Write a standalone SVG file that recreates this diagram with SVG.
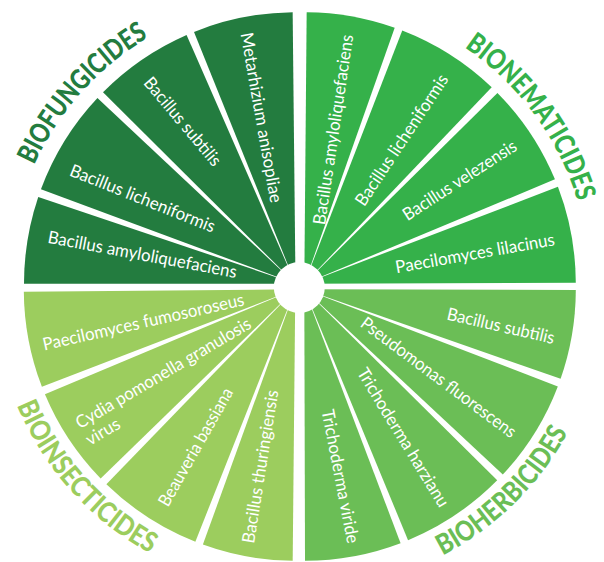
<svg xmlns="http://www.w3.org/2000/svg" width="604" height="562" viewBox="0 0 604 562">
  <style>
    .fung { fill: #237C3F; }
    .nema { fill: #35B14A; }
    .insect { fill: #9CCD5E; }
    .herb { fill: #6BBE56; }
    .lbl { font-family: Lato, "Liberation Sans", sans-serif; font-size: 17.5px; fill: #ffffff; text-anchor: middle; }
    .lbl-start { font-family: Lato, "Liberation Sans", sans-serif; font-size: 17.5px; fill: #ffffff; }
    .ttl { font-family: Lato, "Liberation Sans", sans-serif; font-size: 28px; font-weight: 900; }
  </style>
  <defs>
    <!-- baseline arcs for the category titles -->
    <path id="arc-fung" d="M34.13,165.14 A287,287 0 0 1 148.54,37.18"/>
    <path id="arc-nema" d="M464.43,47.33 A285.5,285.5 0 0 1 577.69,201.42"/>
    <path id="arc-insect" d="M16.96,405.16 A301.5,301.5 0 0 0 150.05,553.51"/>
    <path id="arc-herb" d="M442.83,555.4 A300,300 0 0 0 567.95,432.45"/>
  </defs>

  <!-- upper left quarter -->
  <g id="biofungicides">
    <g id="fung-amyloliquefaciens">
      <path class="fung" d="M295.5,283.7 L24,283.7 A271.5,271.5 0 0 1 38.26,196.88 Z"/>
      <text class="lbl" transform="translate(141.35,260.35) rotate(10.6)" textLength="192" lengthAdjust="spacingAndGlyphs">Bacillus amyloliquefaciens</text>
    </g>
    <g id="fung-licheniformis">
      <path class="fung" d="M295.5,283.7 L40.95,189.29 A271.5,271.5 0 0 1 97.43,98.02 Z"/>
      <text class="lbl" transform="translate(140.35,204) rotate(21.8)" textLength="155" lengthAdjust="spacingAndGlyphs">Bacillus licheniformis</text>
    </g>
    <g id="fung-subtilis">
      <path class="fung" d="M295.5,283.7 L103.02,92.23 A271.5,271.5 0 0 1 186.59,35.01 Z"/>
      <text class="lbl" transform="translate(178,125.3) rotate(50)" textLength="110" lengthAdjust="spacingAndGlyphs">Bacillus subtilis</text>
    </g>
    <g id="fung-metarhizium">
      <path class="fung" d="M295.5,283.7 L194.01,31.88 A271.5,271.5 0 0 1 292.66,12.21 Z"/>
      <text class="lbl" transform="translate(255.5,118.7) rotate(80)" textLength="172.5" lengthAdjust="spacingAndGlyphs">Metarhizium anisopliae</text>
    </g>
    <text class="ttl fung"><textPath href="#arc-fung" textLength="174" lengthAdjust="spacingAndGlyphs">BIOFUNGICIDES</textPath></text>
  </g>

  <!-- upper right quarter -->
  <g id="bionematicides">
    <g id="nema-amyloliquefaciens">
      <path class="nema" d="M304.3,283.7 L306.67,12.21 A271.5,271.5 0 0 1 394.7,27.7 Z"/>
      <text class="lbl" transform="translate(339.2,130.5) rotate(-81.5)" textLength="192" lengthAdjust="spacingAndGlyphs">Bacillus amyloliquefaciens</text>
    </g>
    <g id="nema-licheniformis">
      <path class="nema" d="M304.3,283.7 L402.26,30.49 A271.5,271.5 0 0 1 491.7,87.26 Z"/>
      <text class="lbl" transform="translate(406.7,143.3) rotate(-56.5)" textLength="153.6" lengthAdjust="spacingAndGlyphs">Bacillus licheniformis</text>
    </g>
    <g id="nema-velezensis">
      <path class="nema" d="M304.3,283.7 L497.44,92.9 A271.5,271.5 0 0 1 554.94,179.37 Z"/>
      <text class="lbl" transform="translate(462.8,185.3) rotate(-33)" textLength="132" lengthAdjust="spacingAndGlyphs">Bacillus velezensis</text>
    </g>
    <g id="nema-lilacinus">
      <path class="nema" d="M304.3,283.7 L557.93,186.85 A271.5,271.5 0 0 1 575.8,282.75 Z"/>
      <text class="lbl" transform="translate(476,259.2) rotate(-10)" textLength="161.5" lengthAdjust="spacingAndGlyphs">Paecilomyces lilacinus</text>
    </g>
    <text class="ttl nema"><textPath href="#arc-nema" textLength="195" lengthAdjust="spacingAndGlyphs">BIONEMATICIDES</textPath></text>
  </g>

  <!-- lower left quarter -->
  <g id="bioinsecticides">
    <g id="insect-fumosoroseus">
      <path class="insect" d="M295.3,289.3 L23.81,291.67 A271.5,271.5 0 0 0 41.92,386.82 Z"/>
      <text class="lbl" transform="translate(144.7,327.8) rotate(-12.7)" textLength="206" lengthAdjust="spacingAndGlyphs">Paecilomyces fumosoroseus</text>
    </g>
    <g id="insect-cydia">
      <path class="insect" d="M295.3,289.3 L44.93,394.29 A271.5,271.5 0 0 0 100.66,478.58 Z"/>
      <g transform="translate(80,429.3) rotate(-30.6)">
        <text class="lbl-start" textLength="200.5" lengthAdjust="spacingAndGlyphs">Cydia pomonella granulosis</text>
        <text class="lbl-start" y="19.5">virus</text>
      </g>
    </g>
    <g id="insect-beauveria">
      <path class="insect" d="M295.3,289.3 L106.36,484.27 A271.5,271.5 0 0 0 195.36,541.72 Z"/>
      <text class="lbl" transform="translate(200.8,450) rotate(-60.4)" textLength="133" lengthAdjust="spacingAndGlyphs">Beauveria bassiana</text>
    </g>
    <g id="insect-thuringiensis">
      <path class="insect" d="M295.3,289.3 L202.89,544.58 A271.5,271.5 0 0 0 292.69,560.79 Z"/>
      <text class="lbl" transform="translate(266.2,467.5) rotate(-80.9)" textLength="155" lengthAdjust="spacingAndGlyphs">Bacillus thuringiensis</text>
    </g>
    <text class="ttl insect"><textPath href="#arc-insect" textLength="203" lengthAdjust="spacingAndGlyphs">BIOINSECTICIDES</textPath></text>
  </g>

  <!-- lower right quarter -->
  <g id="bioherbicides">
    <g id="herb-subtilis">
      <path class="herb" d="M304.3,289.3 L575.8,290.01 A271.5,271.5 0 0 1 560.6,378.85 Z"/>
      <text class="lbl" transform="translate(499.5,331.7) rotate(12.9)" textLength="110" lengthAdjust="spacingAndGlyphs">Bacillus subtilis</text>
    </g>
    <g id="herb-fluorescens">
      <path class="herb" d="M304.3,289.3 L557.83,386.42 A271.5,271.5 0 0 1 502.8,474.53 Z"/>
      <text class="lbl" transform="translate(435,382.2) rotate(36.7)" textLength="189" lengthAdjust="spacingAndGlyphs">Pseudomonas fluorescens</text>
    </g>
    <g id="herb-harzianu">
      <path class="herb" d="M304.3,289.3 L497.21,480.33 A271.5,271.5 0 0 1 408.06,540.18 Z"/>
      <text class="lbl" transform="translate(398,440.5) rotate(58.6)" textLength="159.5" lengthAdjust="spacingAndGlyphs">Trichoderma harzianu</text>
    </g>
    <g id="herb-viride">
      <path class="herb" d="M304.3,289.3 L400.58,543.15 A271.5,271.5 0 0 1 305.01,560.8 Z"/>
      <text class="lbl" transform="translate(334.5,477.5) rotate(79)" textLength="136" lengthAdjust="spacingAndGlyphs">Trichoderma viride</text>
    </g>
    <text class="ttl herb"><textPath href="#arc-herb" textLength="178" lengthAdjust="spacingAndGlyphs">BIOHERBICIDES</textPath></text>
  </g>

  <!-- hub -->
  <circle id="hub" cx="299.3" cy="287.5" r="25.5" fill="#ffffff"/>
</svg>
